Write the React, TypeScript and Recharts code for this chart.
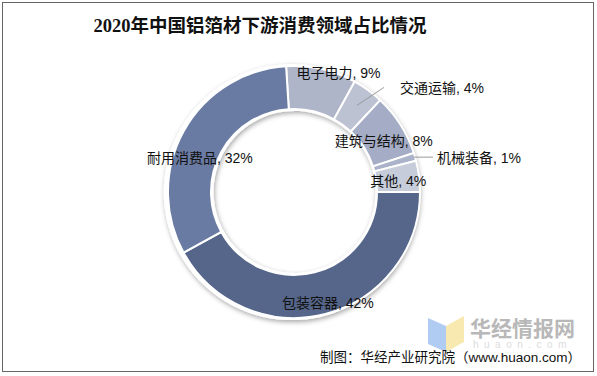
import React from "react";
import { PieChart, Pie, Cell } from "recharts";

const categories = ["电子电力", "交通运输", "建筑与结构", "机械装备", "其他", "包装容器", "耐用消费品"];
const shares = [9, 4, 8, 1, 4, 42, 32];
const colors = ["#aeb5c9", "#bcc2d2", "#a4adc5", "#aab3c9", "#c6ccda", "#55668a", "#6a7ba3"];
const title = "2020年中国铝箔材下游消费领域占比情况";
const footer = "制图：华经产业研究院（www.huaon.com）";

const data = categories.map((name, i) => ({ name, value: shares[i] }));
const bgData = [{ name: "bg", value: 1 }];

// label placement hints (relative to the pie's own geometry)
const labelHints: Record<string, any> = {
  电子电力: { r: 126, dx: 17, dy: 4 },
  交通运输: { outside: true, r1: 107, lx: 27, ly: -18, gap: 16, dy: 1 },
  建筑与结构: { r: 104, dx: 2, dy: 5 },
  机械装备: { outside: true, r1: 125, lx: 19, ly: 0, gap: 4, dy: 1 },
  其他: { r: 104, dx: 1, dy: 2 },
  包装容器: { r: 104, dx: 8, dy: 10 },
  耐用消费品: { r: 104, dx: -3, dy: 16 },
};

const RAD = Math.PI / 180;
const FONT = "'Liberation Sans', Arial, 'Noto Sans CJK SC', sans-serif";

const renderLabel = (props: any) => {
  const { cx, cy, midAngle, name, value } = props;
  const h = labelHints[name] || { r: 104, dx: 0, dy: 0 };
  const pt = (r: number) => ({
    x: cx + r * Math.cos(-midAngle * RAD),
    y: cy + r * Math.sin(-midAngle * RAD),
  });
  const text = `${name}, ${value}%`;
  if (h.outside) {
    const a = pt(h.r1);
    const b = { x: a.x + h.lx, y: a.y + h.ly };
    return (
      <g key={name}>
        <line x1={a.x} y1={a.y} x2={b.x} y2={b.y} stroke="#9a9a9a" strokeWidth={1} />
        <text x={b.x + h.gap} y={b.y + h.dy} fontSize={14} fill="#111" fontFamily={FONT} textAnchor="start" dominantBaseline="central">
          {text}
        </text>
      </g>
    );
  }
  const p = pt(h.r);
  return (
    <text key={name} x={p.x + h.dx} y={p.y + h.dy} fontSize={14} fill="#111" fontFamily={FONT} textAnchor="middle" dominantBaseline="central">
      {text}
    </text>
  );
};

export default function App() {
  return (
    <div style={{ position: "absolute", left: 0, top: 0, width: 597, height: 376, background: "#fff" }}>
      <PieChart width={597} height={376} margin={{ top: 0, right: 0, bottom: 0, left: 0 }}>
        <defs>
          <filter id="ringShadow" x="-20%" y="-20%" width="140%" height="140%">
            <feDropShadow dx="1" dy="2" stdDeviation="2.5" floodColor="#000" floodOpacity="0.35" />
          </filter>
        </defs>
        <rect x={2.5} y={2.5} width={591} height={369} fill="none" stroke="#666" strokeWidth={1} />
        <text x={260} y={26} textAnchor="middle" dominantBaseline="central" fontSize={18.5} fontWeight="bold" fill="#111" fontFamily="'Liberation Serif', 'Noto Sans CJK SC', serif">
          {title}
        </text>
        <Pie
          data={bgData}
          dataKey="value"
          cx={294}
          cy={192}
          innerRadius={81}
          outerRadius={128}
          startAngle={93.6}
          endAngle={-266.4}
          fill="#fff"
          stroke="none"
          isAnimationActive={false}
          style={{ filter: "url(#ringShadow)" }}
          label={false}
          labelLine={false}
        />
        <Pie
          data={data}
          dataKey="value"
          nameKey="name"
          cx={294}
          cy={192}
          innerRadius={83}
          outerRadius={126}
          startAngle={93.6}
          endAngle={-266.4}
          stroke="#fff"
          strokeWidth={2}
          isAnimationActive={false}
          label={renderLabel}
          labelLine={false}
        >
          {data.map((d, i) => (
            <Cell key={d.name} fill={colors[i]} />
          ))}
        </Pie>
        {/* watermark */}
        <polygon points="428,318 446,326 446,352 428,344" fill="#a9c7f2" opacity={0.9} />
        <polygon points="446,326 464,316 464,342 446,352" fill="#f6e7a6" opacity={0.9} />
        <text x={470} y={327} fontSize={21} fontWeight="bold" fill="#b8b8b8" fontFamily="'Noto Sans CJK SC', sans-serif" dominantBaseline="central">
          华经情报网
        </text>
        <text x={473} y={344} fontSize={10} fill="#dcdcdc" letterSpacing={5.5} fontFamily={FONT} dominantBaseline="central">
          huaon.com
        </text>
        <text x={581} y={357} textAnchor="end" dominantBaseline="central" fontSize={13.5} fill="#111" fontFamily={FONT}>
          {footer}
        </text>
      </PieChart>
    </div>
  );
}
